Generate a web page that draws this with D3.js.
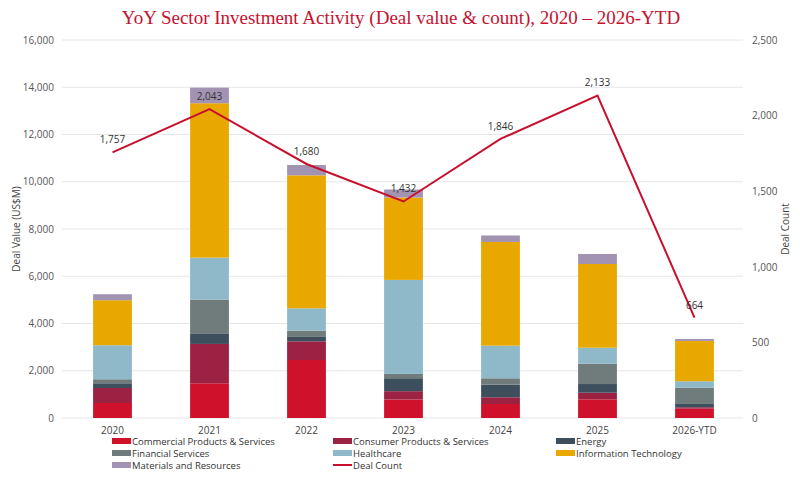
<!DOCTYPE html>
<html>
<head>
<meta charset="utf-8">
<script src="https://cdn.jsdelivr.net/npm/d3@7"></script>
<style>
  body { margin: 0; background: #fff; }
  text { font-family: "Open Sans", "Noto Sans", sans-serif; }
</style>
</head>
<body>
<svg id="chart" width="800" height="479"></svg>
<script>
// categories + series
const years = ["2020", "2021", "2022", "2023", "2024", "2025", "2026-YTD"];
const sectors = [
  "Commercial Products & Services",
  "Consumer Products & Services",
  "Energy",
  "Financial Services",
  "Healthcare",
  "Information Technology",
  "Materials and Resources",
];
const commercial = [635, 1470, 2455, 783, 593, 790, 394];
const consumer = [635, 1665, 790, 351, 284, 280, 60];
const energy = [200, 423, 212, 550, 533, 368, 140];
const financial = [170, 1452, 237, 182, 271, 860, 690];
const healthcare = [1440, 1778, 948, 3979, 1380, 677, 271];
const infoTech = [1905, 6535, 5630, 3488, 4390, 3543, 1706];
const materials = [254, 660, 436, 339, 275, 423, 85];
const dealCount = [1757, 2043, 1680, 1432, 1846, 2133, 664];

const leftTicks = [0, 2000, 4000, 6000, 8000, 10000, 12000, 14000, 16000];
const rightTicks = [0, 500, 1000, 1500, 2000, 2500];

const colors = ["#d0112b", "#9b2242", "#3d4f5c", "#707b7c", "#8fb8c9", "#e8a800", "#a393b3"];
const lineColor = "#c8102e";

const seriesVals = [commercial, consumer, energy, financial, healthcare, infoTech, materials];

// table for the stack layout
const table = years.map((y, i) => {
  const row = { year: y };
  sectors.forEach((s, k) => { row[s] = seriesVals[k][i]; });
  return row;
});

const svg = d3.select("#chart");
const margin = { left: 64, right: 57, top: 40, bottom: 61 };
const W = 800, H = 479;

const x = d3.scaleBand().domain(years).range([margin.left, W - margin.right]).paddingInner(0.6).paddingOuter(0.3);
const yL = d3.scaleLinear().domain([0, 16000]).range([H - margin.bottom, margin.top]);
const yR = d3.scaleLinear().domain([0, 2500]).range([H - margin.bottom, margin.top]);

// title
svg.append("text")
  .attr("x", 401).attr("y", 24)
  .attr("text-anchor", "middle")
  .style("font-family", "'Liberation Serif', 'DejaVu Serif', serif")
  .style("font-size", "19px")
  .attr("fill", "#c41230")
  .text("YoY Sector Investment Activity (Deal value & count), 2020 \u2013 2026-YTD");

// gridlines
svg.append("g").selectAll("line").data(leftTicks).enter().append("line")
  .attr("x1", margin.left - 2).attr("x2", W - margin.right)
  .attr("y1", (d) => yL(d)).attr("y2", (d) => yL(d))
  .attr("stroke", "#e6e6e6").attr("stroke-width", 1);

// left axis
const axL = svg.append("g")
  .attr("transform", "translate(" + (margin.left - 7) + ",0)")
  .call(d3.axisLeft(yL).tickValues(leftTicks).tickSize(0).tickFormat(d3.format(",")));
axL.select(".domain").remove();
axL.selectAll("text").style("font-size", "10px").attr("fill", "#555")
  .style("font-family", "'Open Sans', sans-serif");

// right axis
const axR = svg.append("g")
  .attr("transform", "translate(" + (W - margin.right + 6) + ",0)")
  .call(d3.axisRight(yR).tickValues(rightTicks).tickSize(0).tickFormat(d3.format(",")));
axR.select(".domain").remove();
axR.selectAll("text").style("font-size", "10px").attr("fill", "#555")
  .style("font-family", "'Open Sans', sans-serif");

// axis titles
svg.append("text")
  .attr("transform", "translate(20," + yL(8000) + ") rotate(-90)")
  .attr("text-anchor", "middle")
  .style("font-size", "10px").attr("fill", "#444")
  .text("Deal Value (US$M)");
svg.append("text")
  .attr("transform", "translate(789," + yR(1250) + ") rotate(-90)")
  .attr("text-anchor", "middle")
  .style("font-size", "10px").attr("fill", "#444")
  .text("Deal Count");

// x labels
svg.append("g").selectAll("text").data(years).enter().append("text")
  .attr("x", (d) => x(d) + x.bandwidth() / 2)
  .attr("y", H - margin.bottom + 16)
  .attr("text-anchor", "middle")
  .style("font-size", "10px").attr("fill", "#444")
  .text((d) => d);

// stacked bars
const stacked = d3.stack().keys(sectors)(table);
svg.append("g").selectAll("g").data(stacked).enter().append("g")
  .attr("fill", (d, i) => colors[i])
  .selectAll("rect").data((d) => d).enter().append("rect")
  .attr("x", (d) => x(d.data.year))
  .attr("width", x.bandwidth())
  .attr("y", (d) => yL(d[1]))
  .attr("height", (d) => yL(d[0]) - yL(d[1]));

// deal count line
const line = d3.line()
  .x((d, i) => x(years[i]) + x.bandwidth() / 2)
  .y((d) => yR(d));
svg.append("path").datum(dealCount)
  .attr("d", line)
  .attr("fill", "none")
  .attr("stroke", lineColor)
  .attr("stroke-width", 2);

svg.append("g").selectAll("text").data(dealCount).enter().append("text")
  .attr("x", (d, i) => x(years[i]) + x.bandwidth() / 2)
  .attr("y", (d) => yR(d) - 9)
  .attr("text-anchor", "middle")
  .style("font-size", "10px").attr("fill", "#333")
  .text((d) => d3.format(",")(d));

// legend
const legendItems = sectors.map((s, i) => ({ name: s, color: colors[i], type: "rect" }));
legendItems.push({ name: "Deal Count", color: lineColor, type: "line" });
const colX = [112, 333, 556];
const rowY = [441, 453, 465];
const lg = svg.append("g").selectAll("g").data(legendItems).enter().append("g")
  .attr("transform", (d, i) => "translate(" + colX[i % 3] + "," + rowY[Math.floor(i / 3)] + ")");
lg.filter((d) => d.type == "rect").append("rect")
  .attr("x", 0).attr("y", -3).attr("width", 19).attr("height", 6)
  .attr("fill", (d) => d.color);
lg.filter((d) => d.type == "line").append("line")
  .attr("x1", 0).attr("x2", 19).attr("y1", 0).attr("y2", 0)
  .attr("stroke", (d) => d.color).attr("stroke-width", 2);
lg.append("text")
  .attr("x", 20).attr("y", 3.5)
  .style("font-size", "9.5px").attr("fill", "#333")
  .text((d) => d.name);
</script>
</body>
</html>
